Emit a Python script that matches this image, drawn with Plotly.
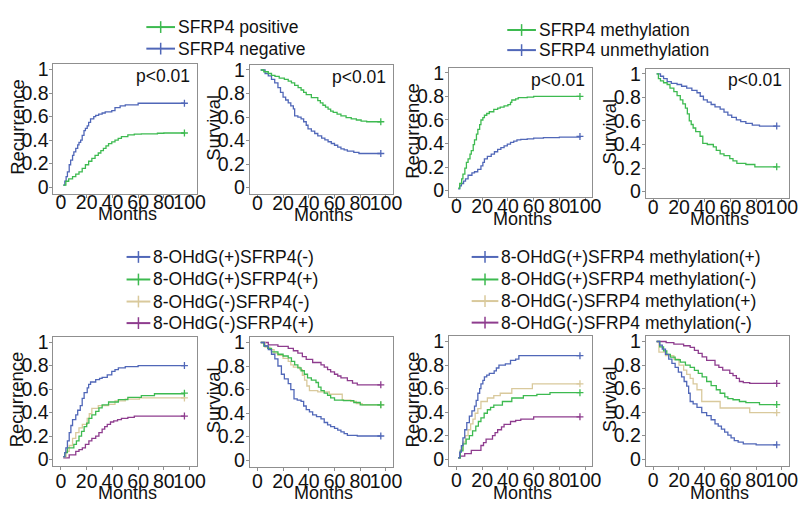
import plotly.graph_objects as go

W, H = 804, 506
FONT = "Liberation Sans, Arial, Helvetica, sans-serif"

BLUE = "#5067b8"
GREEN = "#3dba50"
TAN = "#d9c99c"
PURPLE = "#8e3c8e"
AXIS_GREY = "#8f8f8f"

# ---- SFRP4 expression: recurrence ----
a_pos_t = [1.8, 3.8, 6, 9, 11.5, 14, 16.5, 19, 21.5, 24, 26.5, 29, 31, 33, 35, 37, 39.5, 42, 44.5, 47, 52, 57, 62.5, 75, 80, 96]
a_pos_v = [0.017, 0.05, 0.07, 0.09, 0.11, 0.13, 0.16, 0.19, 0.22, 0.245, 0.27, 0.29, 0.31, 0.33, 0.35, 0.37, 0.385, 0.40, 0.415, 0.43, 0.445, 0.45, 0.453, 0.458, 0.46, 0.46]
a_neg_t = [1.8, 3, 4, 5, 6.4, 7.5, 9, 10, 11.5, 13, 14, 15.3, 16.5, 17.9, 19, 20.4, 21.5, 23, 25.5, 27, 29.3, 32, 34.4, 39.5, 42, 46, 50, 60, 96]
a_neg_v = [0.017, 0.05, 0.09, 0.13, 0.19, 0.23, 0.27, 0.30, 0.33, 0.36, 0.38, 0.40, 0.44, 0.48, 0.50, 0.52, 0.55, 0.58, 0.60, 0.61, 0.62, 0.63, 0.64, 0.65, 0.675, 0.69, 0.70, 0.713, 0.713]

# ---- SFRP4 expression: survival ----
b_pos_t = [2.6, 5, 8.5, 11, 13.7, 17, 21, 24, 26.5, 29, 31.7, 34, 36, 38, 42, 47, 49, 51, 53, 55, 57, 59, 62, 65, 69, 73, 77, 80.7, 85, 96]
b_pos_v = [1.0, 0.985, 0.97, 0.955, 0.945, 0.93, 0.92, 0.905, 0.89, 0.87, 0.85, 0.83, 0.81, 0.79, 0.765, 0.74, 0.72, 0.70, 0.685, 0.667, 0.65, 0.64, 0.625, 0.61, 0.595, 0.585, 0.575, 0.565, 0.56, 0.56]
b_neg_t = [2.6, 6, 8.5, 11, 13.5, 16, 18, 20, 22, 24, 26, 28, 29, 31.5, 34, 36, 38, 39.4, 42, 44.6, 47, 50, 52.5, 55, 57.5, 60, 62.5, 65, 67.5, 70, 75, 79, 96]
b_neg_v = [1.0, 0.97, 0.95, 0.92, 0.89, 0.85, 0.81, 0.77, 0.745, 0.72, 0.695, 0.67, 0.61, 0.60, 0.585, 0.56, 0.53, 0.50, 0.48, 0.46, 0.44, 0.42, 0.405, 0.39, 0.375, 0.36, 0.345, 0.33, 0.32, 0.31, 0.30, 0.29, 0.29]

# ---- SFRP4 methylation: recurrence ----
c_meth_t = [1.3, 2.5, 4, 5, 6.5, 7.7, 9, 10.5, 11.5, 13, 14, 15.5, 16.6, 18, 19, 20.5, 21.7, 23.5, 25.5, 29, 32, 34, 37, 40, 42, 43, 46, 48, 55, 60, 96]
c_meth_v = [0.02, 0.06, 0.10, 0.14, 0.19, 0.24, 0.27, 0.31, 0.34, 0.39, 0.43, 0.48, 0.52, 0.56, 0.60, 0.62, 0.64, 0.655, 0.67, 0.69, 0.70, 0.71, 0.72, 0.73, 0.75, 0.77, 0.78, 0.79, 0.795, 0.80, 0.80]
c_unm_t = [1.3, 2.5, 3.8, 5.5, 7, 9, 12, 14, 16.5, 19, 20.5, 21.7, 24, 27, 29.5, 32, 34.5, 37, 39.5, 42, 44.5, 47, 50, 55, 60, 67.6, 80, 96]
c_unm_v = [0.015, 0.04, 0.06, 0.08, 0.10, 0.13, 0.15, 0.16, 0.18, 0.21, 0.24, 0.27, 0.29, 0.31, 0.33, 0.35, 0.365, 0.38, 0.395, 0.41, 0.42, 0.43, 0.435, 0.44, 0.445, 0.45, 0.455, 0.46]

# ---- SFRP4 methylation: survival ----
d_meth_t = [2.6, 4, 5.6, 8, 10.8, 13, 16, 18.5, 21, 23, 25, 26.5, 28, 29.5, 31, 33, 36.4, 38.5, 42, 46.7, 49, 52, 55, 59.5, 62, 65, 72, 79, 96]
d_meth_v = [1.0, 0.96, 0.94, 0.925, 0.91, 0.88, 0.85, 0.815, 0.78, 0.745, 0.71, 0.66, 0.60, 0.57, 0.54, 0.51, 0.47, 0.41, 0.40, 0.38, 0.35, 0.32, 0.305, 0.28, 0.26, 0.24, 0.23, 0.21, 0.21]
d_unm_t = [2.6, 5.6, 8, 10.8, 14, 18.5, 22, 26, 30, 34, 36.5, 39, 42, 45, 48, 52, 55, 58, 61, 64.6, 68, 72, 77, 82.6, 96]
d_unm_v = [1.0, 0.98, 0.96, 0.935, 0.92, 0.91, 0.895, 0.88, 0.86, 0.84, 0.81, 0.78, 0.76, 0.74, 0.72, 0.70, 0.675, 0.65, 0.63, 0.61, 0.595, 0.58, 0.565, 0.557, 0.557]

# ---- 8-OHdG x SFRP4 expression: recurrence ----
e_pn_t = [1.8, 3, 3.8, 5, 6.4, 7.7, 9, 11.5, 13, 15, 16.5, 18, 20.4, 21.5, 23, 27, 30, 32, 36, 39.5, 42, 44.6, 50, 60, 96]
e_pn_v = [0.025, 0.06, 0.10, 0.16, 0.23, 0.29, 0.34, 0.38, 0.42, 0.46, 0.52, 0.57, 0.61, 0.64, 0.66, 0.68, 0.69, 0.70, 0.72, 0.75, 0.765, 0.78, 0.79, 0.80, 0.80]
e_pp_t = [1.8, 3, 5, 10, 12, 14, 16, 18, 20, 21.7, 24, 27, 29.5, 32, 37, 44.6, 52, 62.5, 72.7, 96]
e_pp_v = [0.025, 0.06, 0.10, 0.13, 0.16, 0.20, 0.24, 0.28, 0.31, 0.35, 0.38, 0.41, 0.44, 0.465, 0.49, 0.51, 0.53, 0.545, 0.56, 0.565]
e_nn_t = [1.8, 4, 6.4, 9, 11.5, 14, 16.6, 20.4, 22, 24, 29, 37, 42, 50, 61, 96]
e_nn_v = [0.025, 0.07, 0.12, 0.18, 0.23, 0.27, 0.30, 0.35, 0.39, 0.435, 0.46, 0.47, 0.50, 0.515, 0.525, 0.525]
e_np_t = [1.8, 6.4, 11.5, 14, 16.6, 19, 21.7, 24, 27, 29.5, 32, 34, 36, 38.5, 41, 44, 47, 52, 57, 96]
e_np_v = [0.015, 0.04, 0.07, 0.085, 0.10, 0.13, 0.16, 0.18, 0.20, 0.23, 0.26, 0.28, 0.30, 0.32, 0.33, 0.34, 0.35, 0.36, 0.37, 0.37]

# ---- 8-OHdG x SFRP4 expression: survival ----
f_pn_t = [2.6, 5.5, 8.5, 11, 13.6, 16, 18.7, 21, 24, 26, 28.5, 31, 34, 36, 38, 40.5, 43, 46, 49.5, 52, 54.6, 57, 60, 62.5, 65, 67.5, 70, 77.7, 96]
f_pn_v = [1.0, 0.97, 0.94, 0.90, 0.86, 0.80, 0.73, 0.69, 0.65, 0.60, 0.52, 0.51, 0.50, 0.46, 0.43, 0.41, 0.385, 0.37, 0.35, 0.32, 0.30, 0.285, 0.27, 0.255, 0.24, 0.225, 0.21, 0.205, 0.205]
f_pp_t = [2.6, 5, 8, 11, 16, 20, 24, 26.5, 29, 31.5, 34, 36.5, 39, 42, 45.6, 47.5, 49.5, 52, 54.6, 57, 60, 67, 75, 80, 96]
f_pp_v = [1.0, 0.97, 0.95, 0.92, 0.90, 0.885, 0.87, 0.84, 0.81, 0.785, 0.76, 0.73, 0.70, 0.68, 0.66, 0.62, 0.59, 0.57, 0.55, 0.53, 0.51, 0.505, 0.49, 0.47, 0.47]
f_nn_t = [2.6, 6, 9.7, 13, 16, 20, 24, 26, 28, 33, 35, 36.7, 38.5, 40.5, 47, 56, 66, 72.6, 77, 81.5, 96]
f_nn_v = [1.0, 0.96, 0.94, 0.91, 0.89, 0.865, 0.84, 0.81, 0.79, 0.77, 0.72, 0.68, 0.63, 0.59, 0.58, 0.56, 0.51, 0.50, 0.48, 0.47, 0.47]
f_np_t = [2.6, 8.5, 16, 24, 28, 31.5, 35, 38, 43, 49.5, 52, 54.6, 57, 60, 62.5, 65, 70, 74, 77.7, 96]
f_np_v = [1.0, 0.98, 0.967, 0.95, 0.93, 0.91, 0.88, 0.856, 0.83, 0.81, 0.79, 0.77, 0.75, 0.73, 0.715, 0.70, 0.675, 0.655, 0.64, 0.64]

# ---- 8-OHdG x SFRP4 methylation: recurrence ----
g_pm_t = [1.3, 2.5, 3.8, 5, 6.4, 8, 10, 12, 14, 15.3, 16.6, 18, 19, 20.5, 21.7, 23.5, 25.5, 29.3, 31, 33, 38, 42, 46, 48.5, 96]
g_pm_v = [0.01, 0.06, 0.115, 0.18, 0.25, 0.31, 0.365, 0.41, 0.45, 0.50, 0.56, 0.60, 0.64, 0.67, 0.70, 0.715, 0.73, 0.75, 0.775, 0.80, 0.81, 0.84, 0.85, 0.88, 0.88]
g_pu_t = [1.3, 3, 5, 7.5, 10, 12.5, 15, 17, 19, 21.5, 24, 26.5, 29, 35.7, 43, 52, 62.5, 72.7, 96]
g_pu_v = [0.01, 0.07, 0.13, 0.17, 0.20, 0.24, 0.28, 0.32, 0.35, 0.39, 0.42, 0.44, 0.46, 0.49, 0.52, 0.54, 0.55, 0.565, 0.565]
g_nm_t = [1.3, 3, 5, 7, 9, 11, 12.8, 14.5, 16.6, 19, 24, 29, 34, 43, 59, 96]
g_nm_v = [0.01, 0.08, 0.145, 0.20, 0.25, 0.30, 0.34, 0.39, 0.43, 0.49, 0.52, 0.54, 0.56, 0.60, 0.64, 0.64]
g_nu_t = [1.3, 3, 6.4, 11.5, 19, 21, 23, 28, 30, 32, 35, 37, 42, 46, 50, 60, 96]
g_nu_v = [0.01, 0.025, 0.047, 0.075, 0.116, 0.14, 0.17, 0.20, 0.225, 0.25, 0.275, 0.295, 0.32, 0.33, 0.34, 0.36, 0.36]

# ---- 8-OHdG x SFRP4 methylation: survival ----
h_pm_t = [2.6, 5, 7, 9.5, 12, 14.5, 17, 19.5, 22, 24, 26, 27.5, 28.7, 31, 34, 37.7, 41.5, 45, 48, 50.5, 53, 55.5, 58, 60.5, 63, 66, 70, 80, 96]
h_pm_v = [1.0, 0.97, 0.936, 0.89, 0.85, 0.815, 0.78, 0.74, 0.70, 0.66, 0.62, 0.56, 0.49, 0.47, 0.44, 0.395, 0.37, 0.335, 0.30, 0.28, 0.255, 0.23, 0.205, 0.18, 0.158, 0.145, 0.13, 0.122, 0.122]
h_pu_t = [2.6, 5, 8, 10.5, 13.3, 17, 21, 25, 28.7, 32, 35, 38, 41.5, 45, 49, 52, 55.6, 58, 62, 67, 72, 82.6, 96]
h_pu_v = [1.0, 0.955, 0.92, 0.89, 0.867, 0.845, 0.825, 0.80, 0.78, 0.755, 0.73, 0.70, 0.66, 0.625, 0.59, 0.56, 0.53, 0.515, 0.505, 0.49, 0.48, 0.464, 0.464]
h_nm_t = [2.6, 4.4, 9.5, 16, 20, 23.6, 26, 28.7, 31, 34, 37.7, 52, 75, 96]
h_nm_v = [1.0, 0.91, 0.88, 0.85, 0.80, 0.756, 0.72, 0.686, 0.64, 0.59, 0.49, 0.435, 0.395, 0.395]
h_nu_t = [2.6, 10, 16, 23.6, 28.7, 32, 35, 38, 41.5, 48, 51, 54, 59.5, 62, 64.6, 67, 70, 75, 96]
h_nu_v = [1.0, 0.99, 0.978, 0.964, 0.95, 0.925, 0.90, 0.87, 0.84, 0.80, 0.78, 0.756, 0.73, 0.71, 0.686, 0.66, 0.65, 0.644, 0.644]

x_ticks = [0, 20, 40, 60, 80, 100]
y_ticks = [0, 0.2, 0.4, 0.6, 0.8, 1]
y_tick_text = ["0", "0.2", "0.4", "0.6", "0.8", "1"]
p_text = "p<0.01"

# Legend groups: (name, colour)
legend_expr = [("SFRP4 positive", GREEN), ("SFRP4 negative", BLUE)]
legend_meth = [("SFRP4 methylation", GREEN), ("SFRP4 unmethylation", BLUE)]
legend_ox_expr = [("8-OHdG(+)SFRP4(-)", BLUE), ("8-OHdG(+)SFRP4(+)", GREEN),
                  ("8-OHdG(-)SFRP4(-)", TAN), ("8-OHdG(-)SFRP4(+)", PURPLE)]
legend_ox_meth = [("8-OHdG(+)SFRP4 methylation(+)", BLUE), ("8-OHdG(+)SFRP4 methylation(-)", GREEN),
                  ("8-OHdG(-)SFRP4 methylation(+)", TAN), ("8-OHdG(-)SFRP4 methylation(-)", PURPLE)]

# Panel layout in pixels: left, top of the plotting box, y title, p-value, curves
BOX_W, BOX_H = 145, 132
panels = [
    dict(left=54, top=59.5, ytitle="Recurrence", p=True, lab=-12, mgap=21,
         curves=[(a_neg_t, a_neg_v, BLUE), (a_pos_t, a_pos_v, GREEN)]),
    dict(left=252.6, top=60, ytitle="Survival", p=True, lab=-12, mgap=21,
         curves=[(b_neg_t, b_neg_v, BLUE), (b_pos_t, b_pos_v, GREEN)]),
    dict(left=454, top=63, ytitle="Recurrence", p=True, lab=-12, mgap=22.5,
         curves=[(c_unm_t, c_unm_v, BLUE), (c_meth_t, c_meth_v, GREEN)]),
    dict(left=653, top=64, ytitle="Survival", p=True, lab=-12, mgap=21.5,
         curves=[(d_unm_t, d_unm_v, BLUE), (d_meth_t, d_meth_v, GREEN)]),
    dict(left=54, top=337.5, ytitle="Recurrence", p=False, lab=-6, mgap=27.5,
         curves=[(e_np_t, e_np_v, PURPLE), (e_nn_t, e_nn_v, TAN),
                 (e_pp_t, e_pp_v, GREEN), (e_pn_t, e_pn_v, BLUE)]),
    dict(left=252.6, top=338, ytitle="Survival", p=False, lab=-6, mgap=27,
         curves=[(f_np_t, f_np_v, PURPLE), (f_nn_t, f_nn_v, TAN),
                 (f_pp_t, f_pp_v, GREEN), (f_pn_t, f_pn_v, BLUE)]),
    dict(left=454, top=337, ytitle="Recurrence", p=False, lab=-6, mgap=28,
         curves=[(g_nu_t, g_nu_v, PURPLE), (g_nm_t, g_nm_v, TAN),
                 (g_pu_t, g_pu_v, GREEN), (g_pm_t, g_pm_v, BLUE)]),
    dict(left=653, top=337, ytitle="Survival", p=False, lab=-6, mgap=28,
         curves=[(h_nu_t, h_nu_v, PURPLE), (h_nm_t, h_nm_v, TAN),
                 (h_pu_t, h_pu_v, GREEN), (h_pm_t, h_pm_v, BLUE)]),
]


def px(x):
    return x / W


def py(y):
    return 1 - y / H


fig = go.Figure()
annotations = []
shapes = []
layout_axes = {}

for i, pnl in enumerate(panels, start=1):
    xa = "x" if i == 1 else f"x{i}"
    ya = "y" if i == 1 else f"y{i}"
    for t, v, col in pnl["curves"]:
        fig.add_trace(go.Scatter(x=t, y=v, xaxis=xa, yaxis=ya, mode="lines",
                                 line=dict(color=col, width=1.3, shape="hv"),
                                 hoverinfo="skip", showlegend=False))
        # censor mark at the end of follow-up
        fig.add_trace(go.Scatter(x=[t[-1]], y=[v[-1]], xaxis=xa, yaxis=ya, mode="markers",
                                 marker=dict(symbol="cross-thin", size=5,
                                             line=dict(color=col, width=1.3)),
                                 hoverinfo="skip", showlegend=False))

    left, top = pnl["left"], pnl["top"]
    common = dict(showline=True, mirror=True, linecolor=AXIS_GREY, linewidth=1,
                  ticks="outside", ticklen=3, tickcolor=AXIS_GREY, tickwidth=1,
                  showgrid=False, zeroline=False, fixedrange=True,
                  ticklabeloverflow="allow",
                  tickfont=dict(family=FONT, size=19.5, color="#111"))
    layout_axes["xaxis" if i == 1 else f"xaxis{i}"] = dict(
        domain=[px(left), px(left + BOX_W)], range=[-5.9, 105.6], anchor=ya,
        tickvals=x_ticks, tickangle=0, ticklabelstandoff=pnl["lab"], **common)
    layout_axes["yaxis" if i == 1 else f"yaxis{i}"] = dict(
        domain=[py(top + BOX_H), py(top)], range=[-0.056, 1.044], anchor=xa,
        tickvals=y_ticks, ticktext=y_tick_text, ticklabelstandoff=-3, **common)

    # axis titles
    annotations.append(dict(text="Months", x=px(left + BOX_W / 2 + 2), y=py(top + BOX_H + pnl["mgap"]),
                            xref="paper", yref="paper", showarrow=False,
                            xanchor="center", yanchor="middle",
                            font=dict(family=FONT, size=18, color="#111")))
    annotations.append(dict(text=pnl["ytitle"], x=px(left - 37), y=py(top + BOX_H / 2 - 2),
                            xref="paper", yref="paper", showarrow=False, textangle=-90,
                            xanchor="center", yanchor="middle",
                            font=dict(family=FONT, size=18.5, color="#111")))
    if pnl["p"]:
        annotations.append(dict(text=p_text, x=px(left + BOX_W - 5), y=py(top + 12),
                                xref="paper", yref="paper", showarrow=False,
                                xanchor="right", yanchor="middle",
                                font=dict(family=FONT, size=17.5, color="#111")))


def add_legend(items, line_x0, line_x1, rows_y):
    for (name, col), yy in zip(items, rows_y):
        xm = (line_x0 + line_x1) / 2
        shapes.append(dict(type="line", xref="paper", yref="paper",
                           x0=px(line_x0), x1=px(line_x1), y0=py(yy), y1=py(yy),
                           line=dict(color=col, width=2)))
        shapes.append(dict(type="line", xref="paper", yref="paper",
                           x0=px(xm), x1=px(xm), y0=py(yy - 6), y1=py(yy + 6),
                           line=dict(color=col, width=1.5)))
        annotations.append(dict(text=name, x=px(line_x1 + 1), y=py(yy),
                                xref="paper", yref="paper", showarrow=False,
                                xanchor="left", yanchor="middle",
                                font=dict(family=FONT, size=17.5, color="#111")))


add_legend(legend_expr, 148, 177, [21.5, 43.5])
add_legend(legend_meth, 513, 542, [24.5, 45])
add_legend(legend_ox_expr, 128, 152, [256, 279, 301.5, 323.5])
add_legend(legend_ox_meth, 477, 504, [256, 279, 301, 323])

fig.update_layout(width=W, height=H, margin=dict(l=0, r=0, t=0, b=0),
                  paper_bgcolor="white", plot_bgcolor="white",
                  showlegend=False, annotations=annotations, shapes=shapes,
                  font=dict(family=FONT, color="#111"), **layout_axes)

fig.write_html("out.html")
